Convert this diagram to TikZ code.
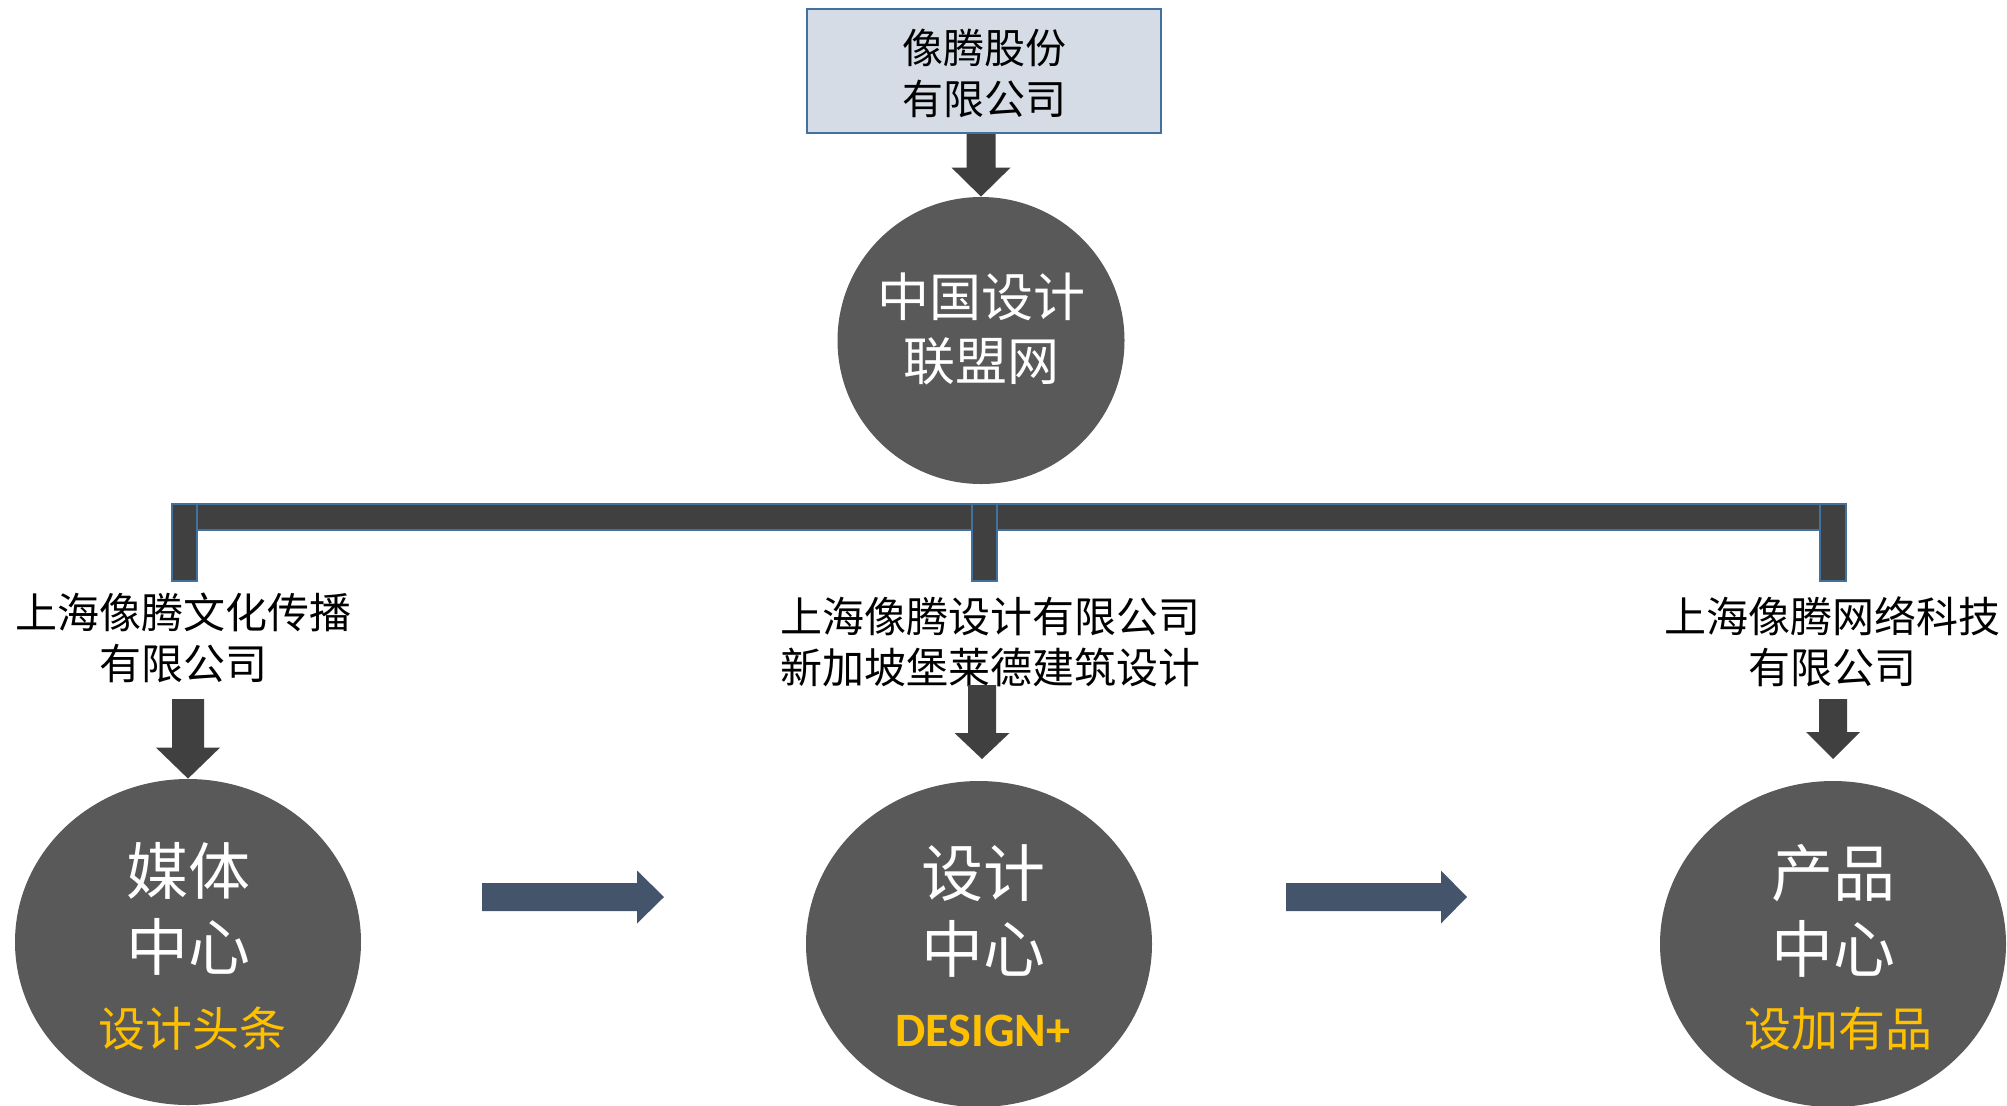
\documentclass[tikz,border=0pt]{standalone}
\usepackage{fontspec}
\usetikzlibrary{calc,shapes.geometric}
\newfontfamily\cjk{Noto Sans CJK SC}
\newfontfamily\carlito{Carlito}
\definecolor{darkfill}{HTML}{404040}
\definecolor{circgray}{HTML}{595959}
\definecolor{barblue}{HTML}{41719C}
\definecolor{boxfill}{HTML}{D6DCE5}
\definecolor{slate}{HTML}{44546A}
\definecolor{gold}{HTML}{FFC000}
\newcommand\fatdown[6]{%
  \coordinate (fdtip) at (#1 |- #2);
  \fill[#6] ($(#1)+(-#3,0)$) -- ($(#1)+(#3,0)$) -- ($(fdtip)+(#3,-#5)$) -- ($(fdtip)+(#4,-#5)$) -- (fdtip) -- ($(fdtip)+(-#4,-#5)$) -- ($(fdtip)+(-#3,-#5)$) -- cycle;}
\newcommand\fatright[6]{%
  \coordinate (frtip) at (#2 |- #1);
  \fill[#6] ($(#1)+(0,-#3)$) -- ($(frtip)+(-#5,-#3)$) -- ($(frtip)+(-#5,-#4)$) -- (frtip) -- ($(frtip)+(-#5,#4)$) -- ($(frtip)+(-#5,#3)$) -- ($(#1)+(0,#3)$) -- cycle;}
\tikzset{
  topbox/.style={rectangle, draw=barblue, line width=1pt, fill=boxfill, minimum width=177pt, minimum height=62pt, inner sep=0},
  bigcirc/.style={ellipse, fill=circgray, minimum width=173pt, minimum height=163pt, inner sep=0},
  topcirc/.style={ellipse, fill=circgray, minimum width=143.5pt, minimum height=143.5pt, inner sep=0},
  boxtext/.style={align=center, inner sep=0, font=\cjk\fontsize{20.5pt}{25.5pt}\selectfont},
  sublabel/.style={align=center, inner sep=0, font=\cjk\fontsize{21pt}{25.5pt}\selectfont},
  toptext/.style={align=center, inner sep=0, text=white, font=\cjk\fontsize{26pt}{32pt}\selectfont},
  circtext/.style={align=center, inner sep=0, text=white, font=\cjk\fontsize{31pt}{38pt}\selectfont},
  goldtext/.style={inner sep=0, text=gold, font=\cjk\fontsize{23.5pt}{28pt}\selectfont},
  barpart/.style={fill=darkfill, draw=barblue, line width=1pt},
}
\begin{document}
\begin{tikzpicture}[x=0.5pt, y=-0.5pt]
\useasboundingbox (0,0) rectangle (2007,1105);
\fill[white] (0,0) rectangle (2007,1105);

% top box and top circle
\node[topbox] (box) at (984,71) {};
\node[boxtext] (boxt) at (984,73) {像腾股份\\有限公司};
\node[topcirc] (topc) at (981,340.5) {};
\node[toptext] (topct) at (981,329) {中国设计\\联盟网};
\fatdown{topc.north |- box.south}{topc.north}{14.5}{29.5}{29}{darkfill}

% bar with stubs
\coordinate (barL) at (172,504);
\coordinate (barR) at (1846,530);
\draw[barpart] (barL) rectangle (barR);
\draw[barpart] (172,504) rectangle (197,581);
\draw[barpart] (972,504) rectangle (997,581);
\draw[barpart] (1820,504) rectangle (1846,581);

% labels
\node[sublabel] (lab1) at (184,637.5) {上海像腾文化传播\\有限公司};
\node[sublabel] (lab2) at (990,642) {上海像腾设计有限公司\\新加坡堡莱德建筑设计};
\node[sublabel] (lab3) at (1832,642) {上海像腾网络科技\\有限公司};

% bottom circles
\node[bigcirc] (lc) at (188,942) {};
\node[bigcirc] (mc) at (979,944) {};
\node[bigcirc] (rc) at (1833,944) {};

\node[circtext] (lct) at (188,909) {媒体\\中心};
\node[goldtext] (lcg) at (192,1028.5) {设计头条};
\node[circtext] (mct) at (983,911) {设计\\中心};
\node[goldtext, font=\carlito\bfseries\fontsize{24pt}{29pt}\selectfont] (mcg) at (983,1031) {DESIGN+};
\node[circtext] (rct) at (1833,911) {产品\\中心};
\node[goldtext] (rcg) at (1838,1029) {设加有品};

% down arrows
\coordinate (la) at (188,699);
\fatdown{la}{lc.north}{16}{32}{31}{darkfill}
\coordinate (ma) at (982,685);
\coordinate (mae) at (982,759);
\fatdown{ma}{mae}{14}{27.5}{26}{darkfill}
\coordinate (ra) at (1833,699);
\coordinate (rae) at (1833,759);
\fatdown{ra}{rae}{14}{27}{27}{darkfill}

% horizontal arrows
\coordinate (h1s) at (482,897);
\coordinate (h1e) at (664,897);
\fatright{h1s}{h1e}{14}{26.5}{27}{slate}
\coordinate (h2s) at (1286,897);
\coordinate (h2e) at (1467,897);
\fatright{h2s}{h2e}{14}{26.5}{26}{slate}
\end{tikzpicture}
\end{document}
